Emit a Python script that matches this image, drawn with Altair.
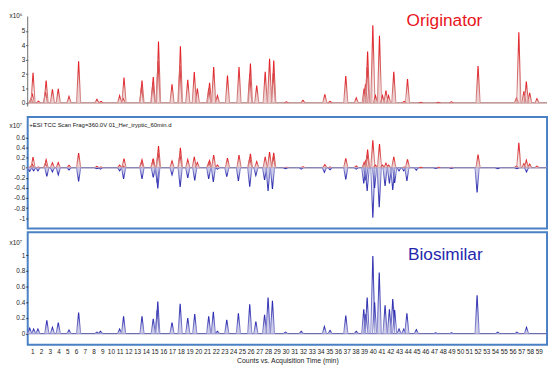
import altair as alt
import pandas as pd

# ---------------- data ----------------
# Originator peaks: retention time (min) and height (x10^6 counts)
orig_time = [0.85, 1.0, 1.08, 1.7, 2.5, 2.58, 3.3, 3.97, 5.2, 6.3, 8.4, 8.87,
             11.0, 11.4, 11.5, 13.5, 13.56, 14.8, 14.85, 15.4, 15.45, 17.0,
             17.9, 17.96, 18.8, 19.55, 19.9, 21.2, 21.3, 21.77, 22.2, 23.35,
             24.67, 25.9, 25.98, 26.7, 27.67, 28.17, 28.6, 28.65, 30.1, 32.0,
             34.5, 35.1, 36.9, 38.1, 39.0, 39.15, 39.35, 39.4, 40.0, 40.3,
             40.76, 41.1, 41.5, 41.8, 42.4, 43.6, 43.97, 45.5, 47.5, 49.0,
             52.05, 56.45, 56.72, 57.3, 57.58, 57.96, 58.8]
orig_height = [0.3, 0.65, 2.1, 0.12, 0.75, 1.55, 0.95, 0.98, 0.45, 2.9, 0.25, 0.1,
               0.5, 0.3, 1.77, 1.1, 1.55, 1.4, 1.8, 2.9, 4.27, 1.3,
               2.6, 3.93, 1.6, 2.15, 1.0, 1.0, 1.4, 2.5, 0.5, 1.9,
               2.5, 2.0, 2.73, 1.2, 2.16, 3.07, 2.1, 2.95, 0.08, 0.18,
               0.6, 0.1, 1.86, 0.35, 1.0, 1.3, 2.5, 3.57, 5.4, 0.5,
               4.66, 0.5, 0.85, 0.5, 2.16, 0.1, 1.66, 0.05, 0.05, 0.08,
               2.57, 0.35, 4.9, 0.8, 1.48, 0.7, 0.3]

# Biosimilar peaks: retention time (min) and height (x10^7 counts)
bios_time = [0.7, 1.15, 1.64, 2.66, 3.3, 3.97, 5.2, 6.3, 8.4, 8.8, 11.0, 11.45,
             13.56, 14.85, 15.3, 15.37, 17.0, 17.93, 18.8, 19.6, 21.2, 21.73,
             22.2, 23.27, 24.6, 25.9, 26.6, 27.6, 28.0, 28.5, 30.0, 31.8, 34.45,
             35.1, 36.9, 38.1, 38.96, 39.2, 39.35, 40.0, 40.2, 40.73, 41.4, 41.9,
             42.28, 42.5, 43.0, 43.55, 43.9, 44.98, 47.2, 49.0, 51.94, 54.3,
             56.5, 57.6]
bios_height = [0.07, 0.06, 0.06, 0.17, 0.08, 0.14, 0.045, 0.27, 0.02, 0.03, 0.06, 0.22,
               0.22, 0.19, 0.3, 0.41, 0.14, 0.38, 0.2, 0.25, 0.22, 0.28,
               0.03, 0.175, 0.26, 0.375, 0.155, 0.24, 0.46, 0.42, 0.02, 0.03, 0.09,
               0.04, 0.23, 0.03, 0.31, 0.25, 0.46, 0.99, 0.4, 0.78, 0.36, 0.31,
               0.44, 0.3, 0.06, 0.06, 0.26, 0.05, 0.01, 0.01, 0.49, 0.02,
               0.02, 0.08]

x_ticks = list(range(1, 60))
top_ticks = [0, 1, 2, 3, 4, 5]
mid_ticks = [-1, -0.8, -0.6, -0.4, -0.2, 0, 0.2, 0.4, 0.6]
bot_ticks = [0, 0.2, 0.4, 0.6, 0.8, 1]

X_MIN, X_MAX = 0.47, 59.95
HALF_W = 0.24  # drawn half-width of a peak (min)
FONT = "Liberation Sans"


def peaks_table(times, heights, factor=1.0):
    rows = []
    for i, (t, h) in enumerate(zip(times, heights)):
        rows.append({"peak": i, "o": 0, "t": t - HALF_W, "v": 0.0})
        rows.append({"peak": i, "o": 1, "t": t, "v": h * factor})
        rows.append({"peak": i, "o": 2, "t": t + HALF_W, "v": 0.0})
    return pd.DataFrame(rows)


orig_df = peaks_table(orig_time, orig_height)
orig_mid_df = peaks_table(orig_time, orig_height, 0.1)
bios_df = peaks_table(bios_time, bios_height)
bios_mid_df = peaks_table(bios_time, bios_height, -1.0)
base_df = pd.DataFrame({"t": [X_MIN], "t2": [X_MAX], "v": [0.0]})

W = 527

xs = alt.Scale(domain=[X_MIN, X_MAX], nice=False, zero=False)
x_none = alt.X("t:Q", scale=xs, axis=None)
x_bottom = alt.X("t:Q", scale=xs, axis=alt.Axis(
    values=x_ticks, labelOverlap=False, domain=False, ticks=False, tickSize=0,
    labelPadding=4, labelFontSize=6.5, labelFont=FONT, labelColor="#222",
    title="Counts vs. Acquisition Time (min)", titleFont=FONT, titleFontSize=7,
    titleFontWeight="normal", titlePadding=2, titleColor="#222"))


def y_enc(domain, ticks, title, ty):
    return alt.Y("v:Q", scale=alt.Scale(domain=domain, nice=False, zero=False),
                 axis=alt.Axis(values=ticks, labelExpr="'' + datum.value",
                               domain=False, tickSize=2, tickColor="#333",
                               labelPadding=1, labelFontSize=6.5, labelFont=FONT,
                               labelColor="#222", title=title, titleAngle=0,
                               titleX=-19, titleY=ty, titleAlign="left",
                               titleBaseline="top", titleFont=FONT,
                               titleFontSize=6.5, titleFontWeight="normal",
                               titleColor="#222"))


def grad(colors):
    return alt.Gradient(gradient="linear", x1=0, x2=0, y1=0, y2=1,
                        stops=[alt.GradientStop(color=c, offset=o) for o, c in colors])


red_up = grad([(0, "#e8141c"), (0.45, "#d65a5a"), (1, "#d29a9a")])
blue_up = grad([(0, "#2020ac"), (0.45, "#5c5cc0"), (1, "#9c9cd4")])
blue_down = grad([(0, "#9c9cd4"), (0.55, "#5c5cc0"), (1, "#2020ac")])


def peak_layers(df, x, y, stroke, fill):
    area = alt.Chart(df).mark_area(color=fill, opacity=0.85).encode(
        x=x, y=y, detail="peak:N", order="o:Q")
    line = alt.Chart(df).mark_line(stroke=stroke, strokeWidth=1.1).encode(
        x=x, y=y, detail="peak:N", order="o:Q")
    return [area, line]


# ---------------- top: Originator ----------------
y_top = y_enc([-0.705, 6], top_ticks, "x10⁶", -4)
top_axis_line = alt.Chart(pd.DataFrame({"t": [X_MIN], "v": [-0.25], "v2": [6.0]})).mark_rule(
    color="#6e6e6e", strokeWidth=1).encode(x=x_none, y=y_top, y2="v2:Q")
top_base = alt.Chart(base_df).mark_rule(color="#b07a7a", strokeWidth=1.2).encode(
    x=x_none, x2="t2:Q", y=y_top)
top_label = alt.Chart(pd.DataFrame({"t": [48.2], "v": [5.66], "txt": ["Originator"]})).mark_text(
    font=FONT, fontSize=17.5, color="#e8141c", align="center", baseline="middle").encode(
    x=x_none, y=y_top, text="txt:N")
top = alt.layer(top_axis_line, top_base,
                *peak_layers(orig_df, x_none, y_top, red_up, "#ecc8c8"),
                top_label).properties(
    width=W, height=98, view=alt.ViewBackground(stroke="transparent"))

# ---------------- middle: mirror plot ----------------
y_mid = y_enc([-1.2, 1.0], mid_ticks, "x10⁷", 6)
mid_base = alt.Chart(base_df).mark_rule(color="#8c86b4", strokeWidth=1.5).encode(
    x=x_none, x2="t2:Q", y=y_mid)
mid_label = alt.Chart(pd.DataFrame({"t": [0.66], "v": [0.835],
                                    "txt": ["+ESI TCC Scan Frag=360.0V 01_Her_tryptic_60min.d"]})).mark_text(
    font=FONT, fontSize=6, color="#111", align="left", baseline="middle").encode(
    x=x_none, y=y_mid, text="txt:N")
mid = alt.layer(mid_base,
                *peak_layers(orig_mid_df, x_none, y_mid, red_up, "#ecc8c8"),
                *peak_layers(bios_mid_df, x_none, y_mid, blue_down, "#c4c4e6"),
                mid_label).properties(width=W, height=113)

# ---------------- bottom: Biosimilar ----------------
y_bot = y_enc([-0.14, 1.29], bot_ticks, "x10⁷", 7)
bot_base = alt.Chart(base_df).mark_rule(color="#6c6cb0", strokeWidth=1.2).encode(
    x=x_bottom, x2="t2:Q", y=y_bot)
bot_label = alt.Chart(pd.DataFrame({"t": [48.3], "v": [0.995], "txt": ["Biosimilar"]})).mark_text(
    font=FONT, fontSize=17.5, color="#2525ad", align="center", baseline="middle").encode(
    x=x_bottom, y=y_bot, text="txt:N")
bot = alt.layer(bot_base,
                *peak_layers(bios_df, x_bottom, y_bot, blue_up, "#c4c4e6"),
                bot_label).properties(width=W, height=114)

chart = alt.vconcat(top, mid, bot, spacing=2).properties(
    padding=0, background="white").configure_view(
    stroke="#4a80c4", strokeWidth=2).configure_axis(grid=False)

chart.save("out.html", embed_options={"renderer": "svg", "actions": False})
